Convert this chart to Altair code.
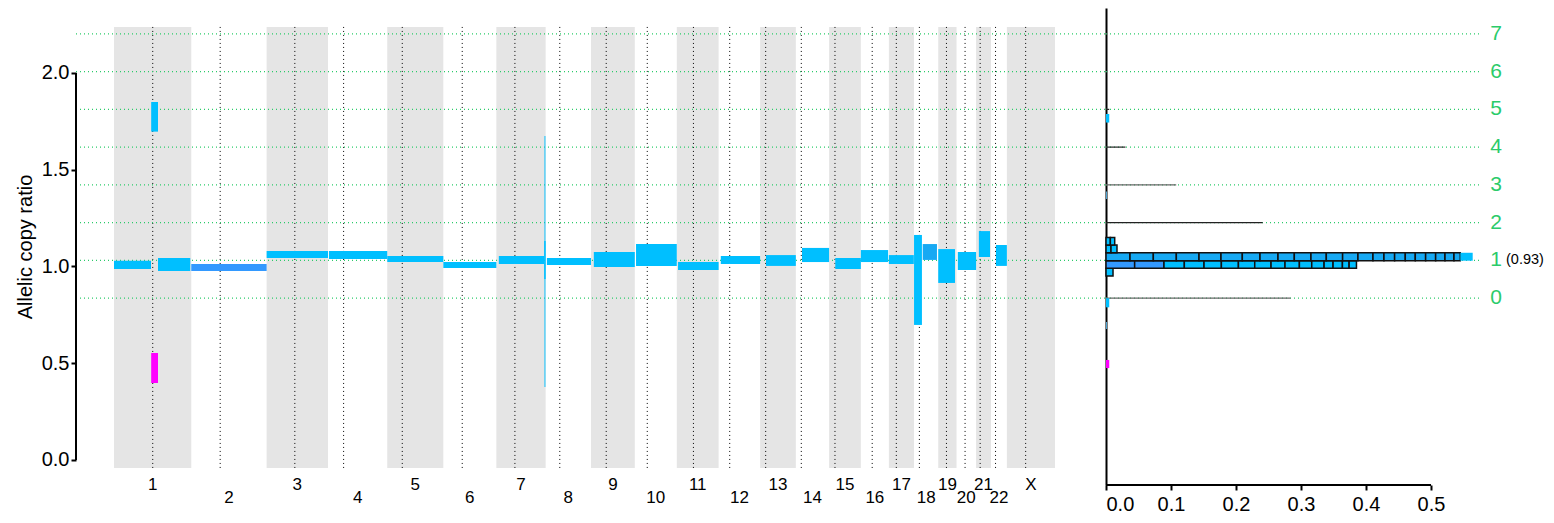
import altair as alt
import pandas as pd

# ---------------- data ----------------
chrom_names = ["1", "2", "3", "4", "5", "6", "7", "8", "9", "10", "11", "12",
               "13", "14", "15", "16", "17", "18", "19", "20", "21", "22", "X"]
chrom_len = [249.3, 243.2, 198.0, 191.2, 180.9, 171.1, 159.1, 146.4, 141.2, 135.5, 135.0, 133.9,
             115.2, 107.3, 102.5, 90.4, 81.2, 78.1, 59.1, 63.0, 48.1, 51.3, 155.3]
centromere = [125.0, 93.3, 91.0, 50.4, 48.4, 61.0, 59.9, 45.6, 49.0, 40.2, 53.7, 35.8,
              17.9, 17.6, 19.0, 36.6, 24.0, 17.2, 26.5, 27.5, 13.2, 14.7, 60.6]

seg_chrom = ["1", "1", "1", "1", "2", "3", "4", "5", "6", "7", "7", "7", "8", "9", "10",
             "11", "12", "13", "14", "15", "16", "17", "18", "18", "19", "20", "21", "22"]
seg_start = [0, 120, 120, 142, 0, 0, 3, 0, 0, 8, 154.3, 155.3, 4, 9, 4,
             4, 7, 19, 20, 20, 0, 0, 0, 28, 0, 4, 9, 16]
seg_end = [119.4, 142, 142, 246, 243.2, 198.0, 191.2, 180.9, 171.1, 154, 159.1, 158.3, 146.4, 141.2, 135.5,
           135.0, 133.9, 115.2, 107.3, 102.5, 88, 80.5, 25.5, 74, 54, 63.0, 45, 51.3]
seg_lo = [0.987, 1.697, 0.398, 0.977, 0.977, 1.044, 1.039, 1.023, 0.992, 1.013, 0.935, 0.377, 1.008, 0.997, 1.003,
          0.982, 1.013, 1.003, 1.023, 0.987, 1.023, 1.013, 0.698, 1.034, 0.915, 0.982, 1.049, 1.003]
seg_hi = [1.030, 1.850, 0.553, 1.044, 1.013, 1.080, 1.080, 1.054, 1.023, 1.054, 1.132, 1.674, 1.044, 1.075, 1.116,
          1.023, 1.054, 1.059, 1.096, 1.044, 1.085, 1.059, 1.163, 1.116, 1.090, 1.075, 1.183, 1.111]
seg_kind = ["main", "main", "magenta", "main", "dark", "main", "main", "main", "main", "main", "main", "main",
            "main", "main", "main", "main", "main", "main", "main", "main", "main", "main", "main", "mid",
            "main", "main", "main", "main"]

cn_levels = [0, 1, 2, 3, 4, 5, 6, 7]
cn_ratio = [0.837, 1.032, 1.227, 1.422, 1.617, 1.812, 2.007, 2.202]
purity_text = "(0.93)"

# copy-number level totals drawn as thin lines in the histogram
lvl_cn = [0, 2, 3, 4, 5]
lvl_len = [0.284, 0.241, 0.108, 0.030, 0.005]
lvl_kind = ["gray", "black", "gray", "black", "black"]

# histogram rows (bin edges) and stacked box widths
hist_bins = [0.951, 0.991, 1.030, 1.071, 1.111, 1.150]
row0_w = [0.0108]
row0_k = ["main"]
row1_w = [0.0441, 0.0451, 0.0313, 0.0303, 0.0267, 0.0262, 0.0251, 0.0251, 0.0215, 0.0221,
          0.0190, 0.0190, 0.0138, 0.0144, 0.0103, 0.0113]
row1_k = ["dark", "dark"] + ["main"] * 14
row2_w = [0.0369, 0.0359, 0.0354, 0.0349, 0.0338, 0.0328, 0.0272, 0.0277, 0.0251, 0.0256,
          0.0236, 0.0251, 0.0236, 0.0231, 0.0169, 0.0164, 0.0164, 0.0154, 0.0159, 0.0154,
          0.0144, 0.0138, 0.0097]
row2_k = ["mid"] * 23
row3_w = [0.0077, 0.0092]
row3_k = ["main", "main"]
row4_w = [0.0067, 0.0067]
row4_k = ["main", "main"]

# unbordered marks in the histogram
mark_lo = [1.744, 1.349, 0.789, 0.677, 0.475, 1.030]
mark_hi = [1.788, 1.387, 0.836, 0.713, 0.517, 1.071]
mark_x0 = [0.0, 0.0, 0.0, 0.0, 0.0, 0.5451]
mark_x1 = [0.005, 0.0015, 0.005, 0.0015, 0.005, 0.5641]
mark_kind = ["main", "dim", "main", "dim", "magenta", "main"]

# ---------------- tables ----------------
offsets = []
acc = 0.0
for L in chrom_len:
    offsets.append(acc)
    acc += L

BAND_LO, BAND_HI = -0.041, 2.238

chrom_df = pd.DataFrame({
    "chrom": chrom_names,
    "start": offsets,
    "end": [o + L for o, L in zip(offsets, chrom_len)],
    "center": [o + L / 2 for o, L in zip(offsets, chrom_len)],
    "cen": [o + c for o, c in zip(offsets, centromere)],
    "idx": list(range(len(chrom_names))),
})
chrom_df["band_lo"] = BAND_LO
chrom_df["band_hi"] = BAND_HI
off_map = dict(zip(chrom_names, offsets))

cen_rows = []
for c, o, p in zip(chrom_names, offsets, centromere):
    cen_rows.append({"chrom": c, "cen": o + p, "yy": BAND_LO})
    cen_rows.append({"chrom": c, "cen": o + p, "yy": BAND_HI})
cen_df = pd.DataFrame(cen_rows)

seg_df = pd.DataFrame({
    "chrom": seg_chrom,
    "gs": [off_map[c] + s for c, s in zip(seg_chrom, seg_start)],
    "ge": [off_map[c] + e for c, e in zip(seg_chrom, seg_end)],
    "lo": seg_lo, "hi": seg_hi, "kind": seg_kind,
})

cn_df = pd.DataFrame({"cn": cn_levels, "ratio": cn_ratio})
lvl_df = pd.DataFrame({"ratio": [cn_ratio[c] for c in lvl_cn], "len": lvl_len, "kind": lvl_kind, "x0": 0.0})

box_rows = []
for i, (ws, ks) in enumerate([(row0_w, row0_k), (row1_w, row1_k), (row2_w, row2_k),
                              (row3_w, row3_k), (row4_w, row4_k)]):
    x = 0.0
    for w, k in zip(ws, ks):
        box_rows.append({"x0": x, "x1": x + w, "lo": hist_bins[i], "hi": hist_bins[i + 1], "kind": k})
        x += w
box_df = pd.DataFrame(box_rows)
mark_df = pd.DataFrame({"x0": mark_x0, "x1": mark_x1, "lo": mark_lo, "hi": mark_hi, "kind": mark_kind})
axis_df = pd.DataFrame({"y0": [0.0], "y1": [2.0], "x0": [0.0], "x1": [0.5]})
pur_df = pd.DataFrame({"ratio": [cn_ratio[1]], "t": [purity_text]})

# ---------------- styling ----------------
FONT = "Liberation Sans"
GREEN = "#2BCB6A"
kind_scale = alt.Scale(domain=["main", "dark", "mid", "magenta", "dim", "gray", "black"],
                       range=["#00BFFF", "#3399FF", "#17A9F3", "#FF00FF", "#4FA6D6", "#666666", "#222222"])
H = 477
WL = 1030
WR = 373
y_scale = alt.Scale(domain=[-0.1292, 2.3359], nice=False, zero=False)
xl_scale = alt.Scale(domain=[-122.6, 3200.8], nice=False, zero=False)
xr_scale = alt.Scale(domain=[0, 0.5738], nice=False, zero=False)

left_yaxis = alt.Axis(values=[0, 0.5, 1, 1.5, 2], format=".1f", domain=False, grid=False,
                      tickColor="black", tickWidth=2, tickSize=5, labelFontSize=20, labelFont=FONT,
                      labelColor="black", labelPadding=2, title="Allelic copy ratio", titleFontSize=20,
                      titleFont=FONT, titleFontWeight="normal", titleColor="black", titlePadding=6)
right_yaxis = alt.Axis(labels=False, ticks=False, domain=True, domainColor="black", domainWidth=2,
                       grid=False, title=None)
right_xaxis = alt.Axis(values=[0, 0.1, 0.2, 0.3, 0.4, 0.5], format=".1f", domain=False, grid=False,
                       tickColor="black", tickWidth=2, tickSize=5, labelFontSize=20, labelFont=FONT,
                       labelColor="black", labelPadding=4, title=None)


def yl(field):
    return alt.Y(field, type="quantitative", scale=y_scale, axis=left_yaxis)


def yr(field):
    return alt.Y(field, type="quantitative", scale=y_scale, axis=right_yaxis)


def xl(field):
    return alt.X(field, type="quantitative", scale=xl_scale, axis=None)


def xr(field):
    return alt.X(field, type="quantitative", scale=xr_scale, axis=right_xaxis)


# ---------------- left panel ----------------
bands = alt.Chart(chrom_df).transform_filter("datum.idx % 2 == 0").mark_rect(color="#E5E5E5").encode(
    x=xl("start"), x2="end", y=yl("band_lo"), y2="band_hi")
green_l = alt.Chart(cn_df).mark_rule(stroke=GREEN, color=GREEN, strokeDash=[1, 3],
                                     strokeWidth=1.2).encode(
    y=yl("ratio"), x=alt.value(0), x2=alt.value(WL))
cen = alt.Chart(cen_df).mark_line(stroke="#000000", color="#000000", strokeDash=[1, 3],
                                  strokeWidth=1).encode(
    x=xl("cen"), y=yl("yy"), detail="chrom:N", order="yy:Q")
segs = alt.Chart(seg_df).mark_rect().encode(
    x=xl("gs"), x2="ge", y=yl("lo"), y2="hi",
    color=alt.Color("kind:N", scale=kind_scale, legend=None))
yaxis_line = alt.Chart(axis_df).mark_rule(stroke="black", color="black", strokeWidth=2).encode(
    x=alt.value(0), y=yl("y0"), y2="y1")
lab_odd = alt.Chart(chrom_df).transform_filter("datum.idx % 2 == 0").mark_text(
    font=FONT, fontSize=17, color="black", baseline="middle", align="center").encode(
    x=xl("center"), y=alt.value(477), text="chrom:N")
lab_even = alt.Chart(chrom_df).transform_filter("datum.idx % 2 == 1").mark_text(
    font=FONT, fontSize=17, color="black", baseline="middle", align="center").encode(
    x=xl("center"), y=alt.value(490), text="chrom:N")

left = alt.layer(bands, cen, green_l, segs, yaxis_line, lab_odd, lab_even).properties(width=WL, height=H)

# ---------------- right panel ----------------
green_r = alt.Chart(cn_df).mark_rule(stroke=GREEN, color=GREEN, strokeDash=[1, 3],
                                     strokeWidth=1.2).encode(
    y=yr("ratio"), x=alt.value(0), x2=alt.value(WR))
lvl = alt.Chart(lvl_df).mark_rule(strokeWidth=1.2).encode(
    x=xr("x0"), x2="len", y=yr("ratio"),
    color=alt.Color("kind:N", scale=kind_scale, legend=None))
boxes = alt.Chart(box_df).mark_rect(stroke="#111111", strokeWidth=1.5).encode(
    x=xr("x0"), x2="x1", y=yr("lo"), y2="hi",
    color=alt.Color("kind:N", scale=kind_scale, legend=None))
marks = alt.Chart(mark_df).mark_rect().encode(
    x=xr("x0"), x2="x1", y=yr("lo"), y2="hi",
    color=alt.Color("kind:N", scale=kind_scale, legend=None))
xaxis_line = alt.Chart(axis_df).mark_rule(stroke="black", color="black", strokeWidth=2).encode(
    x=xr("x0"), x2="x1", y=alt.value(H))
cn_text = alt.Chart(cn_df).mark_text(font=FONT, fontSize=21, color=GREEN, align="center",
                                     baseline="middle").encode(
    x=alt.value(390), y=yr("ratio"), text="cn:N")
pur = alt.Chart(pur_df).mark_text(font=FONT, fontSize=14.5, color="black", align="left",
                                  baseline="middle").encode(
    x=alt.value(400), y=yr("ratio"), text="t:N")

right = alt.layer(green_r, lvl, boxes, marks, xaxis_line, cn_text, pur).properties(width=WR, height=H)

chart = alt.hconcat(left, right, spacing=0, bounds="flush").resolve_scale(
    x="independent", y="independent", color="shared").properties(
    padding={"left": 7, "top": 0, "right": 0, "bottom": 0}
).configure(font=FONT).configure_view(strokeWidth=0, stroke="transparent")

chart.save("out.html", embed_options={"renderer": "svg", "actions": False})
